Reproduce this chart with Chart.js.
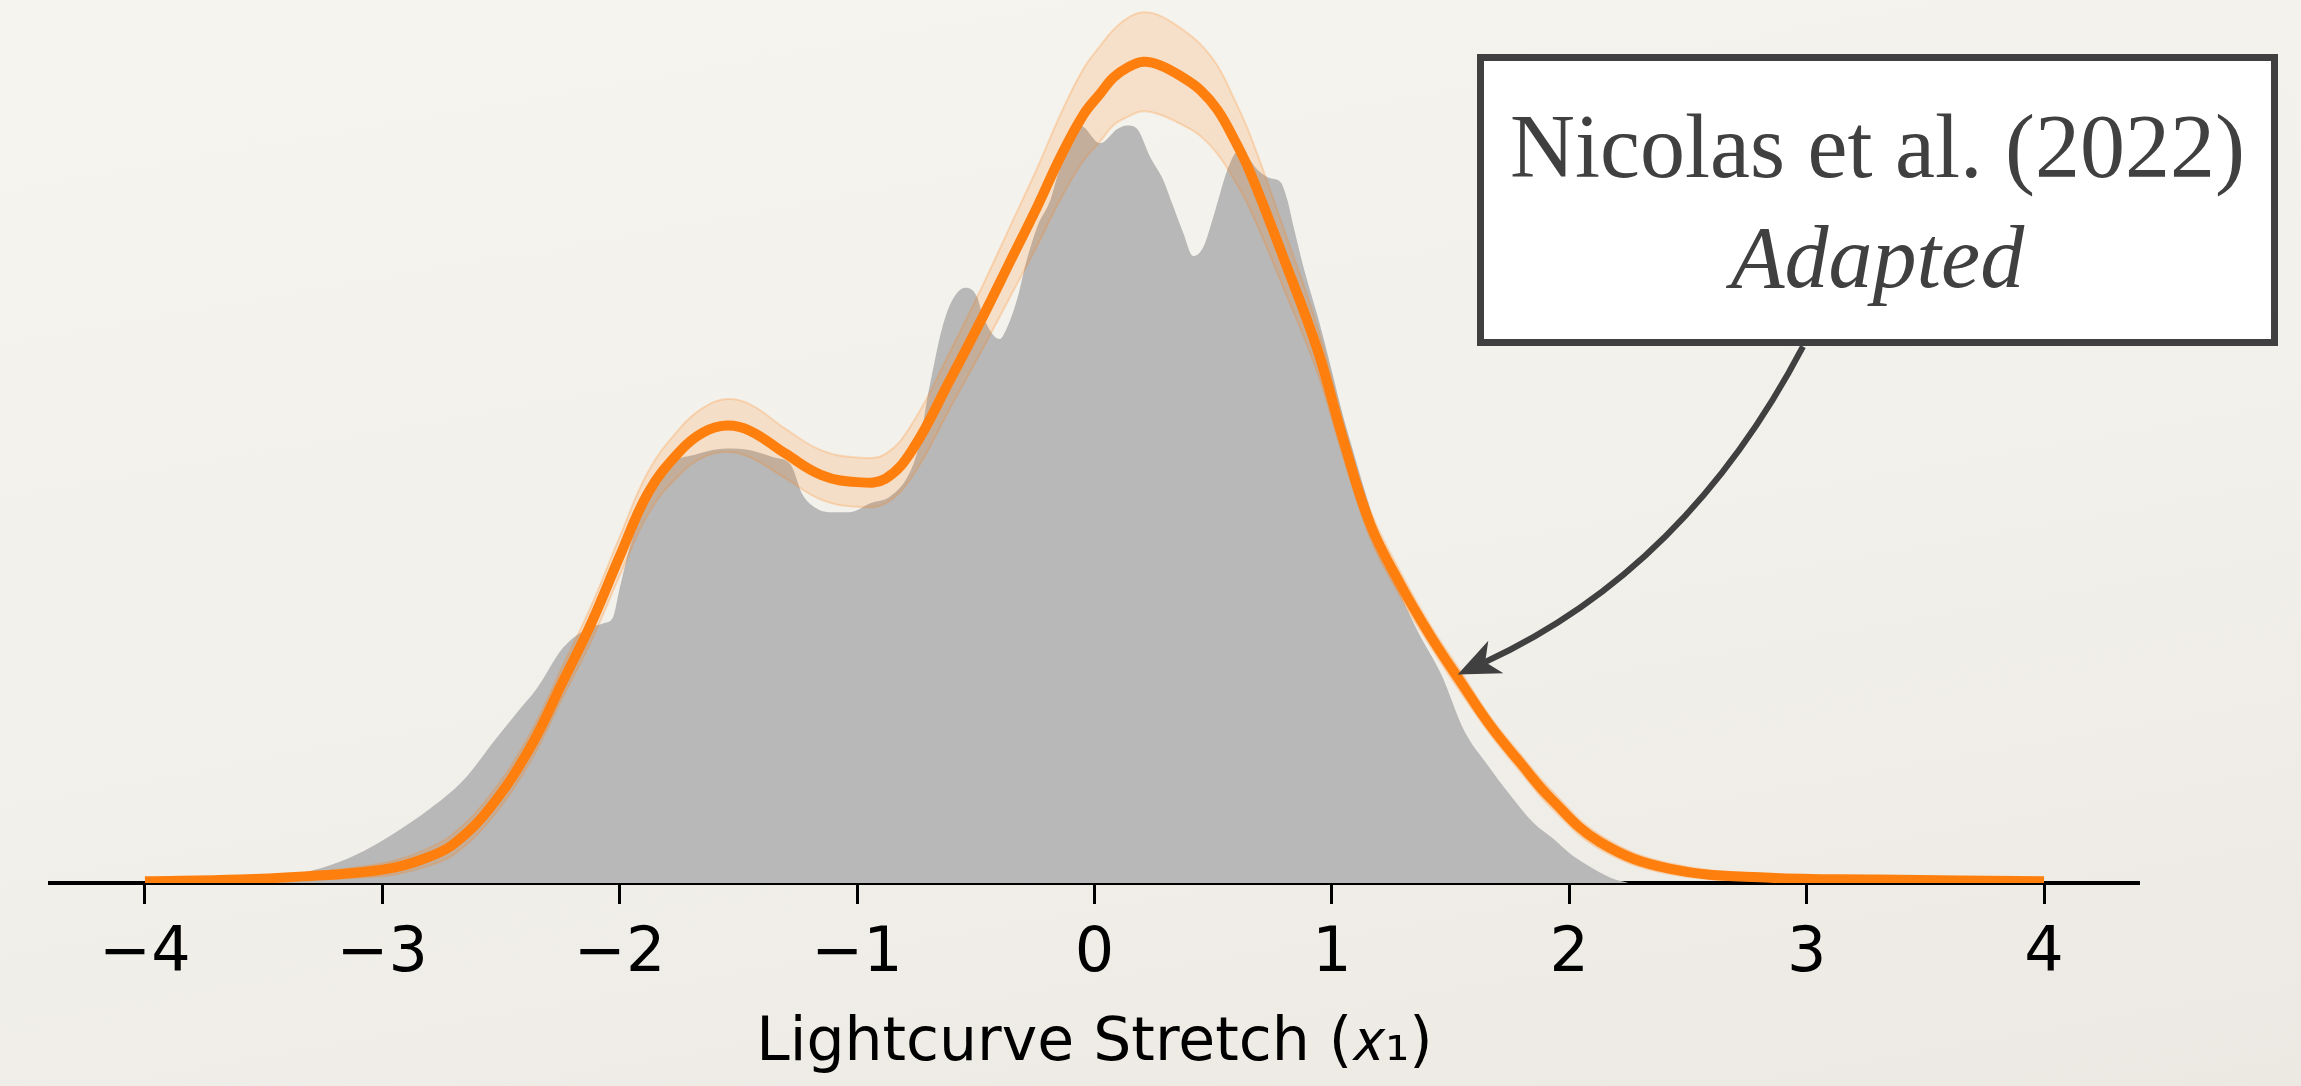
<!DOCTYPE html>
<html>
<head>
<meta charset="utf-8">
<script src="https://cdn.jsdelivr.net/npm/chart.js@4.4.0/dist/chart.umd.min.js"></script>
<style>
html, body { margin: 0; padding: 0; }
body {
  width: 2301px; height: 1086px; overflow: hidden;
  background: linear-gradient(170deg, #f6f4ef 0%, #f2f0ea 55%, #ece9e3 100%);
}
canvas { display: block; }
</style>
</head>
<body>
<canvas id="x1Chart" width="2301" height="1086"></canvas>
<script>
// fitted population model (orange) : mean and its band
const fitX     = [-4.0, -3.6, -3.3, -3.1, -2.94, -2.8, -2.7, -2.55, -2.38, -2.24, -2.12, -2.0, -1.88, -1.75, -1.65, -1.55, -1.45, -1.3, -1.15, -1.0, -0.88, -0.764, -0.608, -0.469, -0.355, -0.241, -0.144, -0.047, 0.024, 0.079, 0.142, 0.206, 0.277, 0.374, 0.446, 0.517, 0.585, 0.657, 0.796, 0.939, 1.048, 1.162, 1.289, 1.415, 1.542, 1.668, 1.794, 1.921, 2.131, 2.426, 2.848, 3.3, 4.0];
const fitMean  = [0.001, 0.002, 0.004, 0.006, 0.009, 0.015, 0.022, 0.042, 0.076, 0.114, 0.147, 0.185, 0.221, 0.244, 0.255, 0.259, 0.256, 0.243, 0.231, 0.227, 0.229, 0.246, 0.285, 0.321, 0.352, 0.383, 0.411, 0.435, 0.447, 0.456, 0.462, 0.465, 0.463, 0.456, 0.449, 0.438, 0.422, 0.402, 0.354, 0.302, 0.251, 0.203, 0.169, 0.140, 0.114, 0.089, 0.068, 0.048, 0.023, 0.008, 0.003, 0.002, 0.001];
const fitUpper = [0.002, 0.003, 0.006, 0.009, 0.013, 0.020, 0.028, 0.049, 0.084, 0.123, 0.157, 0.196, 0.233, 0.257, 0.269, 0.274, 0.271, 0.257, 0.245, 0.241, 0.243, 0.261, 0.301, 0.339, 0.372, 0.405, 0.435, 0.461, 0.474, 0.483, 0.490, 0.493, 0.491, 0.483, 0.475, 0.463, 0.445, 0.423, 0.371, 0.315, 0.261, 0.211, 0.176, 0.146, 0.120, 0.094, 0.073, 0.053, 0.027, 0.011, 0.005, 0.003, 0.002];
const fitLower = [0.000, 0.001, 0.002, 0.003, 0.005, 0.010, 0.016, 0.035, 0.068, 0.105, 0.137, 0.174, 0.209, 0.231, 0.241, 0.244, 0.241, 0.229, 0.217, 0.213, 0.215, 0.231, 0.269, 0.303, 0.332, 0.361, 0.387, 0.409, 0.420, 0.429, 0.434, 0.437, 0.435, 0.429, 0.423, 0.413, 0.399, 0.381, 0.337, 0.289, 0.241, 0.195, 0.162, 0.134, 0.108, 0.084, 0.063, 0.043, 0.019, 0.005, 0.001, 0.001, 0.000];

// observed x1 distribution (grey)
const histX = [-3.6, -3.45, -3.3, -3.22, -3.08, -2.94, -2.8, -2.66, -2.52, -2.43, -2.35, -2.24, -2.15, -2.07, -2.03, -2.0, -1.96, -1.885, -1.82, -1.67, -1.55, -1.45, -1.35, -1.28, -1.23, -1.17, -1.12, -1.03, -0.945, -0.86, -0.78, -0.735, -0.705, -0.68, -0.65, -0.61, -0.545, -0.495, -0.47, -0.4, -0.37, -0.325, -0.285, -0.24, -0.185, -0.157, -0.115, -0.06, 0.024, 0.096, 0.138, 0.18, 0.235, 0.29, 0.332, 0.374, 0.416, 0.458, 0.5, 0.53, 0.56, 0.602, 0.644, 0.686, 0.741, 0.783, 0.812, 0.838, 0.88, 0.94, 0.994, 1.048, 1.078, 1.13, 1.18, 1.234, 1.3, 1.364, 1.461, 1.558, 1.655, 1.75, 1.85, 1.933, 2.0, 2.077, 2.174, 2.25];
const histY = [0.000, 0.003, 0.007, 0.010, 0.018, 0.029, 0.042, 0.058, 0.082, 0.097, 0.110, 0.133, 0.143, 0.147, 0.150, 0.167, 0.189, 0.218, 0.234, 0.243, 0.246, 0.245, 0.241, 0.237, 0.220, 0.212, 0.210, 0.210, 0.215, 0.219, 0.232, 0.250, 0.274, 0.291, 0.310, 0.327, 0.337, 0.332, 0.321, 0.308, 0.314, 0.331, 0.353, 0.372, 0.387, 0.400, 0.415, 0.429, 0.419, 0.427, 0.429, 0.427, 0.411, 0.398, 0.383, 0.368, 0.355, 0.360, 0.377, 0.391, 0.404, 0.414, 0.411, 0.404, 0.399, 0.397, 0.387, 0.372, 0.349, 0.321, 0.293, 0.264, 0.250, 0.226, 0.204, 0.180, 0.160, 0.142, 0.118, 0.086, 0.067, 0.050, 0.034, 0.025, 0.017, 0.010, 0.003, 0.000];

const axisTitle = 'Lightcurve Stretch (\u{1D465}\u2081)';
const noteLines = ['Nicolas et al. (2022)', 'Adapted'];
const arrowTip = { x: 1.53, y: 0.118 };

const pts = (xs, ys) => xs.map((x, i) => ({ x: x, y: ys[i] }));

// annotation box + curved arrow pointing at the fit
const noteBox = {
  id: 'noteBox',
  afterDraw(chart) {
    const { ctx, scales: { x, y } } = chart;
    const bx = 1480.5, by = 57.5, bw = 794, bh = 285;
    ctx.save();
    ctx.fillStyle = '#ffffff';
    ctx.fillRect(bx, by, bw, bh);
    ctx.lineWidth = 7;
    ctx.strokeStyle = '#404040';
    ctx.strokeRect(bx, by, bw, bh);

    ctx.fillStyle = '#404040';
    ctx.textAlign = 'center';
    ctx.textBaseline = 'alphabetic';
    const cx = bx + bw / 2;
    ctx.font = '90px "Liberation Serif"';
    ctx.fillText(noteLines[0], cx, 177);
    ctx.font = 'italic 88px "Liberation Serif"';
    ctx.fillText(noteLines[1], cx, 287);

    // arrow
    const sx = 1803, sy = by + bh + 4;
    const ex = x.getPixelForValue(arrowTip.x), ey = y.getPixelForValue(arrowTip.y);
    const rad = 0.17;
    const qx = (sx + ex) / 2 + rad * (ey - sy);
    const qy = (sy + ey) / 2 - rad * (ex - sx);
    let ux = ex - qx, uy = ey - qy;
    const len = Math.hypot(ux, uy);
    ux /= len; uy /= len;
    const L = 42, W = 18;
    const nx = -uy, ny = ux;
    const bxh = ex - ux * L, byh = ey - uy * L;
    const kx = ex - ux * L * 0.72, ky = ey - uy * L * 0.72;

    ctx.lineWidth = 6;
    ctx.lineCap = 'butt';
    ctx.beginPath();
    ctx.moveTo(sx, sy);
    ctx.quadraticCurveTo(qx, qy, kx, ky);
    ctx.stroke();

    ctx.beginPath();
    ctx.moveTo(ex, ey);
    ctx.lineTo(bxh + nx * W, byh + ny * W);
    ctx.lineTo(kx, ky);
    ctx.lineTo(bxh - nx * W, byh - ny * W);
    ctx.closePath();
    ctx.fill();
    ctx.restore();
  }
};

const chart = new Chart(document.getElementById('x1Chart'), {
  type: 'line',
  data: {
    datasets: [
      { label: 'fit', data: pts(fitX, fitMean), borderColor: '#ff7f0e', borderWidth: 10, fill: false, order: 1,
        tension: 0.4, cubicInterpolationMode: 'default' },
      { label: 'upper', data: pts(fitX, fitUpper), borderColor: 'rgba(255,127,14,0.22)', borderWidth: 2,
        backgroundColor: 'rgba(255,127,14,0.16)', fill: '+1', order: 2, tension: 0.4, cubicInterpolationMode: 'default' },
      { label: 'lower', data: pts(fitX, fitLower), borderColor: 'rgba(255,127,14,0.22)', borderWidth: 2, fill: false, order: 3,
        tension: 0.4, cubicInterpolationMode: 'default' },
      { label: 'data', data: pts(histX, histY), borderColor: 'rgba(0,0,0,0)', borderWidth: 0,
        backgroundColor: '#b8b8b8', fill: 'origin', order: 4, cubicInterpolationMode: 'monotone' }
    ]
  },
  options: {
    responsive: false,
    animation: false,
    devicePixelRatio: 1,
    layout: { padding: { left: 50, right: 162, top: 0, bottom: 0 } },
    elements: { point: { radius: 0 } },
    plugins: { legend: { display: false }, tooltip: { enabled: false } },
    scales: {
      x: {
        type: 'linear', min: -4.4, max: 4.4,
        afterFit: s => { s.height = 203; },
        border: { display: true, color: '#000', width: 4 },
        grid: { drawOnChartArea: false, drawTicks: true, tickLength: 21, tickWidth: 3, tickColor: '#000' },
        ticks: {
          stepSize: 1, includeBounds: false, padding: 14, color: '#000',
          font: { family: 'DejaVu Sans', size: 62, lineHeight: 1.2 },
          callback: v => String(v).replace('-', '\u2212')
        },
        title: {
          display: true, text: axisTitle, color: '#000',
          font: { family: 'DejaVu Sans', size: 60, lineHeight: 1.2 },
          padding: { top: 0, bottom: 6 }
        }
      },
      y: { display: false, min: 0, max: 0.5 }
    }
  },
  plugins: [noteBox]
});
</script>
</body>
</html>
